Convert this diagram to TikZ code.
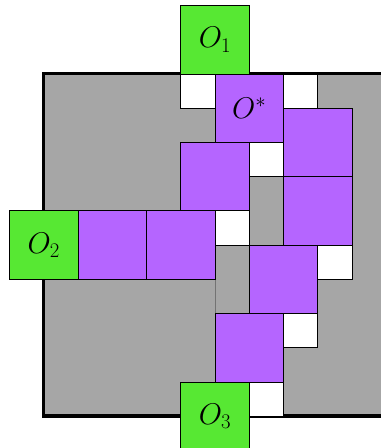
\documentclass[tikz,border=0pt]{standalone}
\definecolor{obsgreen}{RGB}{87,232,51}
\definecolor{pathpurple}{RGB}{181,101,255}
\definecolor{bggray}{RGB}{166,166,166}
\begin{document}
\begin{tikzpicture}[x=1cm,y=-1cm,
  cell/.style={draw=black,line width=0.6pt,inner sep=0pt,anchor=north west},
  bigcell/.style={cell,minimum size=2cm},
  whitecell/.style={cell,minimum size=1cm,fill=white},
  obst/.style={bigcell,fill=obsgreen,font=\fontsize{25.6}{30}\selectfont},
  pathcell/.style={bigcell,fill=pathpurple,font=\fontsize{25.6}{30}\selectfont},
  graycell/.style={cell,draw=black!55,fill=bggray,minimum width=1cm,minimum height=2cm},
]
\useasboundingbox (-1.270,-2.147) rectangle (9.857,10.937);
\clip (-1.270,-2.147) rectangle (9.857,10.937);
% field
\fill[bggray] (0,0) rectangle (10,10);
\draw[line width=2.9pt] (0,0) rectangle (10,10);
% gray cell
\node[graycell] (g1) at (5,5) {};
% white cells
\node[whitecell] (w1) at (4,0) {};
\node[whitecell] (w2) at (7,0) {};
\node[whitecell] (w3) at (6,2) {};
\node[whitecell] (w4) at (5,4) {};
\node[whitecell] (w5) at (8,5) {};
\node[whitecell] (w6) at (7,7) {};
\node[whitecell] (w7) at (6,9) {};
% purple cells
\node[pathcell] (ostar) at (5,0) {$O^*$};
\node[pathcell] (p1) at (7,1) {};
\node[pathcell] (p2) at (4,2) {};
\node[pathcell] (p3) at (7,3) {};
\node[pathcell] (p4) at (1,4) {};
\node[pathcell] (p5) at (3,4) {};
\node[pathcell] (p6) at (6,5) {};
\node[pathcell] (p7) at (5,7) {};
% green cells
\node[obst] (o1) at (4,-2) {$O_1$};
\node[obst] (o2) at (-1,4) {$O_2$};
\node[obst] (o3) at (4,9) {$O_3$};
\end{tikzpicture}
\end{document}
